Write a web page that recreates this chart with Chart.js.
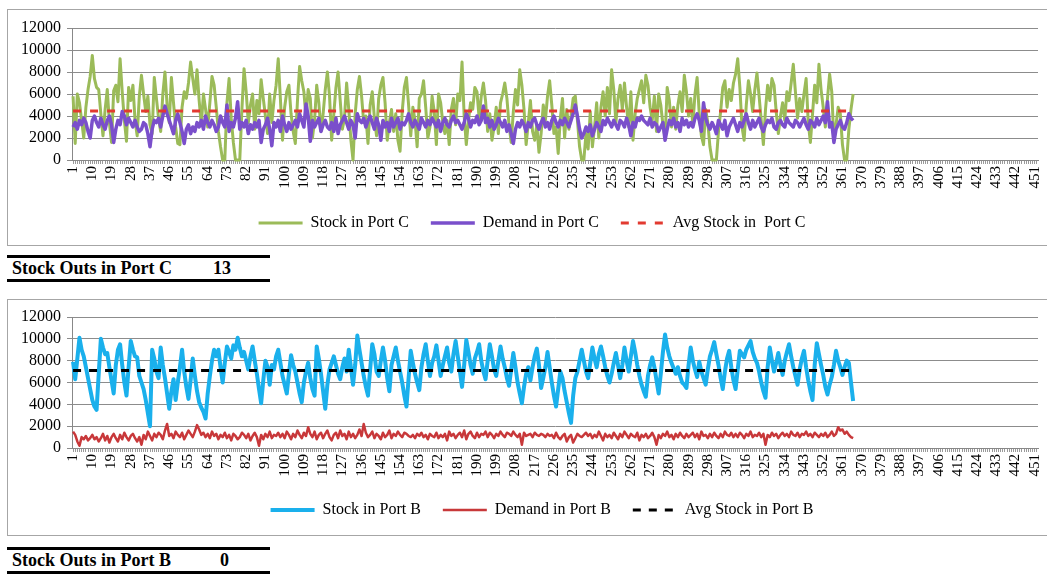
<!DOCTYPE html>
<html>
<head>
<meta charset="utf-8">
<title>Stock in Port C / Port B</title>
<script src="https://cdn.jsdelivr.net/npm/chart.js@4.4.0/dist/chart.umd.min.js"></script>
<style>
  body { margin: 0; background: #fff; overflow: hidden; width: 1047px; height: 575px; position: relative;
         font-family: "Liberation Serif", "Times New Roman", serif; }
  .panel { position: absolute; left: 7px; width: 1068px; height: 235px; border: 1px solid #a6a6a6; }
  #panelC { top: 9px; }
  #panelB { top: 299px; }
  .panel canvas { display: block; }
  .outs { position: absolute; left: 7px; width: 263px; height: 21px; border-top: 3px solid #000; border-bottom: 3px solid #000;
          font-weight: bold; font-size: 18px; line-height: 21px; color: #000; }
  .outs span { position: absolute; top: 0; }
  #outsC { top: 255px; }
  #outsB { top: 547px; }
</style>
</head>
<body>
<div class="panel" id="panelC"><canvas id="chartC" width="1068" height="235"></canvas></div>
<div class="outs" id="outsC"><span style="left:5px">Stock Outs in Port C</span><span id="valC" style="left:206px"></span></div>
<div class="panel" id="panelB"><canvas id="chartB" width="1068" height="235"></canvas></div>
<div class="outs" id="outsB"><span style="left:5px">Stock Outs in Port B</span><span id="valB" style="left:213px"></span></div>

<script>
// day numbers on the category axis
const days = [];
for (let d = 1; d <= 452; d++) days.push(String(d));

// Port C
const stockC = [
  5800, 1500, 6000, 5200, 3600, 2000, 4800, 6400, 7600, 9500,
  7400, 6600, 6400, 4200, 2200, 4600, 6400, 3400, 1600, 6300,
  6800, 5300, 9200, 6200, 3600, 1700, 6600, 5400, 6800, 3600,
  2200, 5800, 7700, 6000, 4400, 5800, 3200, 2400, 7500, 5600,
  3800, 2600, 6000, 8000, 5000, 3400, 7500, 5200, 3000, 1500,
  1400, 4800, 6200, 5600, 7000, 8900, 7400, 6000, 8200, 5400,
  3200, 6000, 4600, 3000, 5200, 7600, 6800, 4800, 2600, 1200,
  0, 0, 5200, 7400, 3800, 1600, 0, 0, 0, 4600,
  8300, 6200, 3400, 5000, 6000, 2800, 5400, 4200, 7300, 5600,
  4000, 2400, 6000, 3400, 5400, 6800, 9200, 5600, 1800, 4800,
  6200, 6800, 4200, 2600, 1500, 5400, 8500, 7200, 6200, 3800,
  6400, 5600, 2000, 3600, 6800, 5200, 2600, 4200, 6400, 8000,
  5800, 1800, 4200, 6600, 8000, 5400, 2800, 3800, 7000, 4600,
  1800, 0, 4200, 6400, 7600, 5800, 3400, 4000, 1500, 5000,
  6200, 3800, 2200, 5600, 6800, 7500, 5200, 1800, 3400, 4600,
  2600, 4200, 1800, 800, 4400, 6600, 7500, 5000, 2200, 4800,
  3600, 1200, 5600, 6000, 7200, 4800, 2000, 3000, 5800, 4400,
  1400, 6000, 5200, 3400, 2400, 3600, 1400, 4600, 5600, 3200,
  6000, 5400, 8900, 4000, 1400, 3600, 5200, 4600, 6600, 6200,
  3800, 5800, 7000, 5400, 2600, 4200, 1800, 3000, 4800, 2400,
  5200, 6000, 7000, 5600, 3200, 1600, 4400, 6400, 5000, 8200,
  6800, 4600, 1400, 3400, 5400, 2600, 1800, 3200, 700, 2400,
  5000, 3600, 5800, 7200, 5000, 2400, 3000, 600, 3800, 5600,
  2000, 4600, 2800, 4000, 5600, 5800, 3600, 1200, 0, 0,
  2400, 1000, 4400, 1200, 3000, 5200, 2000, 4800, 6200, 4000,
  6600, 4200, 8200, 6400, 3400, 5600, 6800, 4600, 7000, 4800,
  3000, 6200, 1800, 4200, 5600, 6400, 7200, 5200, 7700, 6800,
  4800, 3600, 5800, 2600, 6000, 5000, 3200, 2000, 6600, 5400,
  3000, 4800, 2800, 5000, 6200, 4400, 7700, 6200, 4000, 5600,
  3200, 6000, 7500, 4200, 2200, 1400, 4600, 3400, 1200, 0,
  0, 0, 2600, 4400, 6600, 7200, 4800, 6400, 5400, 7000,
  7800, 9200, 6600, 3000, 1800, 5000, 7200, 6000, 4400, 6400,
  7900, 5800, 3600, 1400, 4600, 6800, 5400, 7400, 6800, 4400,
  2400, 4000, 5200, 3600, 6200, 5400, 7000, 8700, 6200, 3800,
  5600, 4400, 6000, 7400, 3400, 1600, 4200, 6800, 5200, 8700,
  6400, 4800, 3000, 5600, 7800, 6200, 1800, 3200, 4800, 4200,
  1400, 0, 0, 2800, 4600, 6000
];
const demandC = [
  3000, 3400, 2800, 3600, 3200, 3800, 3400, 2600, 2000, 3600,
  4000, 3400, 3000, 3800, 3200, 2800, 3600, 4000, 3200, 1600,
  2800, 3600, 3200, 4400, 4000, 3200, 3800, 3400, 3000, 3600,
  3000, 2600, 2800, 3400, 3200, 2400, 1200, 2800, 3600, 3400,
  3800, 3000, 4000, 4900, 4200, 3600, 3000, 2400, 3600, 4200,
  3400, 2600, 1500, 2800, 3200, 2400, 3000, 2600, 3400, 3000,
  3600, 2800, 4000, 3400, 3000, 3600, 3200, 2600, 3000, 4000,
  3400, 3000, 5000, 2600, 3400, 3000, 3800, 5300, 2800, 3400,
  3000, 3600, 2400, 3200, 2800, 3400, 3000, 3600, 1600, 2800,
  3200, 3800, 2800, 1300, 3400, 3000, 3600, 2600, 4000, 3200,
  2600, 3400, 2800, 3200, 3600, 3000, 4200, 3600, 3000, 5100,
  4000, 1700, 3600, 3000, 3400, 3800, 2600, 3200, 3600, 3000,
  2800, 3400, 2600, 3800, 2400, 3200, 3600, 4000, 3400, 2800,
  3600, 3200, 2000, 4200, 3600, 3400, 3800, 3000, 3600, 4000,
  3400, 2800, 3800, 3200, 1800, 3600, 3000, 3400, 2600, 3800,
  3000, 3400, 3800, 2800, 3400, 3200, 3600, 4200, 3400, 3000,
  3600, 3200, 2800, 3800, 3400, 3000, 3600, 3200, 3800, 3400,
  3000, 3600, 2600, 3400, 3800, 3200, 3000, 3600, 4000, 3400,
  3600, 3200, 2800, 3400, 4200, 3800, 3000, 3600, 3400, 4000,
  3200, 3600, 4900, 3400, 3800, 3000, 3600, 2800, 3200, 3800,
  3400, 3000, 3600, 2600, 3200, 2400, 1500, 2800, 3400, 3000,
  3600, 3200, 2600, 3400, 3000, 3600, 3800, 3200, 2800, 3400,
  3800, 3000, 3400, 2800, 3600, 4000, 3400, 3000, 3600, 3200,
  3800, 3400, 3000, 3600, 4200, 5000, 4000, 2800, 2000, 2400,
  3000, 2600, 3200, 2200, 2800, 3400, 3000, 2600, 3600, 3200,
  3800, 3400, 3000, 3600, 3200, 2800, 3600, 3400, 3000, 3800,
  3200, 2200, 3400, 3000, 3800, 3600, 4000, 3600, 3400, 3200,
  3800, 3000, 3400, 3200, 2600, 3000, 3400, 1800, 2800, 3600,
  3200, 3800, 3000, 3400, 2600, 3800, 3200, 3600, 3000, 3400,
  3000, 3800, 4200, 3600, 2600, 5200, 3800, 3200, 2800, 3400,
  3000, 2400, 3600, 3200, 2800, 3600, 2200, 3000, 3400, 3800,
  3200, 2600, 3400, 3000, 3600, 4200, 3400, 2800, 3600, 3000,
  3400, 3800, 3000, 2600, 3200, 3600, 3400, 3800, 3000, 2800,
  3400, 3600, 3200, 3000, 3800, 3400, 3200, 3000, 3600, 3400,
  3000, 3400, 3800, 3200, 2800, 3600, 3400, 3000, 3800, 3200,
  3600, 4000, 3400, 5300, 3000, 3400, 1600, 2800, 3200, 3600,
  3000, 2800, 3400, 4200, 3800, 3600
];
const avgStockC = 4450;
const stockOutsC = 13;

// Port B
const stockB = [
  7900, 6300, 8200, 10100, 9000, 8400, 7400, 6400, 5400, 4400,
  3800, 3500, 6800, 10000, 9200, 8600, 8700, 7400, 6200, 5000,
  7600, 9000, 9500, 7600, 6000, 4800, 7400, 9800, 9000, 8400,
  8300, 6600, 6000, 5400, 4400, 3200, 2000, 9000, 8200, 7000,
  6400, 9200, 7600, 6400, 5000, 3600, 5200, 6300, 4400, 6000,
  7400, 9000, 7000, 5600, 4500, 6200, 8200, 6600, 5200, 4200,
  3700, 3300, 2700, 5000, 6600, 8000, 9000, 8400, 9000, 7400,
  6000, 7800, 9300, 8800, 8200, 9400, 9000, 10100, 9200, 8400,
  8800, 8000, 7200, 8400, 9300, 8000, 6800, 5400, 4100, 6200,
  8000, 7400, 5800, 7600, 7200, 8400, 9000, 7800, 6600, 5800,
  5000, 6800, 8500, 7600, 7000, 6000, 5000, 4200, 6000, 7000,
  7800, 6400, 5400, 4800, 9300, 8200, 6800, 5200, 3600, 5800,
  7200, 7800, 8400, 7600, 6800, 6300, 7400, 8200, 7000, 9000,
  7400, 5800, 7600, 10300, 9000, 7800, 6600, 5600, 4800, 7200,
  9500, 8600, 7000, 6600, 8000, 9200, 8000, 6400, 5200, 7600,
  8400, 9200, 8000, 7000, 6000, 4800, 3800, 6400, 8900, 7800,
  6800, 6000, 5300, 7400, 8600, 9500, 8000, 6600, 7800, 8400,
  9400, 8000, 6600, 7600, 8400, 9200, 7800, 7000, 8600, 9800,
  8400, 7000, 5600, 7600, 9900, 8800, 7600, 6800, 8200, 8800,
  9500, 8000, 7000, 6300, 8000, 9500, 8400, 7200, 6600, 8000,
  9300, 8200, 7400, 6400, 5700, 7200, 8700, 7400, 6000, 5000,
  4100, 5600, 6800, 7400, 6200, 7400, 8400, 9100, 7600, 5500,
  6400, 7400, 8800, 7400, 6000, 4800, 3800, 5400, 7000, 6400,
  5200, 4200, 3200, 2300, 4800, 6400, 7000, 8000, 9000, 8000,
  7000, 6400, 7800, 9200, 8200, 7400, 8600, 9300, 8400, 7400,
  6600, 6000, 6800, 7800, 8700, 7600, 6400, 7600, 9200, 8000,
  7000, 8400, 9800, 8800, 7600, 6600, 5800, 5200, 4700, 6600,
  7600, 8300, 7400, 6200, 5000, 6800, 8800, 10400, 9200, 8400,
  7800, 7300, 6800, 7400, 6600, 6000, 5800, 5500, 7600, 9200,
  8000, 7200, 6500, 7900, 7000, 6400, 5800, 7200, 8400, 9000,
  9700, 8600, 7600, 6400, 5400, 7000, 8200, 8900, 7400, 6200,
  5400, 7200, 8900, 8600, 8300, 9000, 9400, 9800, 8800, 8200,
  7800, 7000, 6000, 5200, 4600, 7400, 9200, 8000, 7000, 7800,
  8700, 7600, 6700, 8000, 8800, 9500, 8400, 7400, 6600, 5800,
  7200, 8200, 8900, 7400, 6200, 5200, 4400, 7600, 9600, 8600,
  7600, 6700, 5600, 4900, 5800, 6500, 7600, 8900, 8000, 7400,
  6700, 7400, 8000, 7800, 6000, 4300
];
const demandB = [
  1500, 1200, 600, 200, 1000, 800, 1100, 700, 900, 1200,
  800, 1000, 600, 900, 1300, 700, 1100, 500, 1000, 1300,
  900, 600, 1200, 800, 1400, 1000, 700, 1100, 1300, 900,
  600, 1000, 300, 1200, 800, 1500, 1100, 700, 1300, 1000,
  1400, 1200, 800, 1600, 2200, 1100, 1300, 900, 1500, 1200,
  1000, 1400, 800, 1200, 1600, 1300, 1000, 1500, 2100, 1700,
  1200, 1400, 1000, 1300, 900, 1500, 1100, 1300, 800, 1200,
  1000, 1400, 900, 1200, 700, 1300, 1100, 800, 1000, 1400,
  1200, 900, 1300, 700, 1100, 1400, 1000, 200, 1200, 800,
  1300, 1000, 1500, 900, 1200, 1100, 1400, 1000, 1300, 900,
  1500, 1200, 800, 1300, 1000, 1600, 1200, 900, 1400, 1100,
  1900, 1300, 1000, 1500, 800, 1200, 1400, 900, 1300, 1600,
  1000, 700, 1200, 1400, 900, 1600, 1100, 1300, 800, 1500,
  1000, 1300, 900, 1200, 1700, 1100, 2200, 1400, 1000, 1200,
  1500, 900, 1300, 1100, 800, 1400, 1000, 1200, 1600, 900,
  1300, 1100, 1500, 1200, 1000, 1400, 1300, 1100, 1000, 1200,
  900, 1300, 1100, 1400, 1000, 1200, 800, 1300, 1100, 1000,
  1400, 900, 1200, 1000, 1300, 700, 1500, 1100, 1300, 900,
  1200, 1400, 1000, 1600, 800, 1300, 1500, 1100, 900, 1400,
  1000, 1300, 1200, 1500, 1000, 1400, 1200, 900, 1300, 1100,
  1500, 1200, 1000, 1400, 1300, 1100, 1500, 1200, 1000, 1300,
  300, 1400, 1100, 1200, 1300, 1000, 1400, 1200, 1100, 1300,
  1200, 1000, 1300, 1100, 1200, 900, 1400, 1000, 800, 1100,
  1300, 600, 1000, 1200, 500, 900, 1300, 1100, 1000, 1200,
  1400, 1100, 1300, 900, 1200, 1000, 1500, 1100, 700, 1300,
  1000, 1200, 900, 1400, 1100, 800, 1300, 1000, 1500, 1200,
  900, 1300, 1100, 1000, 1400, 700, 1200, 1000, 1300, 900,
  1100, 1400, 1000, 300, 1200, 900, 1300, 1100, 1500, 1000,
  1200, 800, 1300, 1000, 1400, 1100, 900, 1300, 1000, 1200,
  1400, 1000, 1300, 800, 1500, 1100, 1200, 900, 1300, 1000,
  1400, 1100, 900, 1300, 1000, 1500, 1200, 1100, 1400, 1000,
  1300, 1000, 1400, 1200, 900, 1300, 1100, 1500, 1000, 1200,
  1100, 1400, 1000, 1300, 300, 1200, 1000, 1400, 1100, 1300,
  900, 1200, 1400, 1100, 1300, 1000, 1500, 1200, 1100, 1400,
  1000, 1300, 1200, 1500, 1100, 1300, 1000, 1400, 1200, 1000,
  1300, 1100, 1400, 1000, 1200, 1500, 1100, 1300, 1900, 1600,
  1700, 1300, 1500, 1200, 1000, 900
];
const avgStockB = 7100;
const stockOutsB = 0;

const serif = "'Liberation Serif', 'Times New Roman', serif";

document.getElementById('valC').textContent = stockOutsC;
document.getElementById('valB').textContent = stockOutsB;

function flatLine(value, n) {
  const out = [];
  for (let i = 0; i < n; i++) out.push(value);
  return out;
}

// legend items take the dash of their dataset (pointStyle legends drop it)
function legendLabels(chart) {
  const items = Chart.defaults.plugins.legend.labels.generateLabels(chart);
  items.forEach(item => {
    const ds = chart.data.datasets[item.datasetIndex];
    item.lineDash = ds.borderDash || [];
    item.lineWidth = ds.borderWidth;
  });
  return items;
}

function drawPanel(canvasId, series, box) {
  const ctx = document.getElementById(canvasId).getContext('2d');
  return new Chart(ctx, {
    type: 'line',
    data: {
      labels: days,
      datasets: [
        { label: series.stockLabel, data: series.stock, borderColor: series.stockColor, borderWidth: series.stockWidth,
          borderJoinStyle: 'round', order: 2, clip: 4 },
        { label: series.demandLabel, data: series.demand, borderColor: series.demandColor, borderWidth: series.demandWidth,
          borderJoinStyle: 'round', order: 1, clip: 4 },
        { label: series.avgLabel, data: flatLine(series.avg, series.stock.length), borderColor: series.avgColor,
          borderWidth: 3, borderDash: series.avgDash, order: 0, clip: 4 }
      ]
    },
    options: {
      responsive: false,
      animation: false,
      layout: { padding: { left: 0, right: 38, top: box.padTop, bottom: box.padBottom } },
      elements: { point: { radius: 0 }, line: { tension: 0 } },
      plugins: {
        legend: {
          position: 'bottom',
          labels: {
            usePointStyle: true,
            pointStyle: 'line',
            pointStyleWidth: 44,
            padding: 22,
            color: '#000',
            font: { family: serif, size: 16 },
            generateLabels: legendLabels,
            sort: (a, b) => a.datasetIndex - b.datasetIndex
          }
        },
        tooltip: { enabled: false }
      },
      scales: {
        x: {
          offset: true,
          grid: { drawOnChartArea: false, color: '#9a9a9a', tickLength: 4 },
          border: { color: '#888' },
          ticks: {
            autoSkip: false,
            minRotation: 90,
            maxRotation: 90,
            padding: 2,
            color: '#000',
            font: { family: serif, size: 15 },
            callback: function (value, index) {
              return index % 9 === 0 ? this.getLabelForValue(value) : '';
            }
          },
          afterFit: (scale) => { scale.height = box.xHeight; }
        },
        y: {
          min: 0,
          max: 12000,
          grid: { color: '#8c8c8c', tickLength: 5 },
          border: { color: '#888' },
          ticks: {
            autoSkip: false,
            stepSize: 2000,
            padding: 6,
            color: '#000',
            font: { family: serif, size: 16 },
            callback: (v) => String(v)
          },
          afterFit: (scale) => { scale.width = 64; }
        }
      }
    },
    plugins: [{
      id: 'legendShift',
      afterLayout: (chart) => {
        chart.legend.left += box.legendShift;
        chart.legend.right += box.legendShift;
      }
    }]
  });
}

drawPanel('chartC', {
  stock: stockC, demand: demandC, avg: avgStockC,
  stockLabel: 'Stock in Port C', demandLabel: 'Demand in Port C', avgLabel: 'Avg Stock in  Port C',
  stockColor: '#9BBB59', demandColor: '#7A4FCB', avgColor: '#E23A30', stockWidth: 3, demandWidth: 3.5,
  avgDash: [8, 9]
}, { padTop: 18, padBottom: 4, xHeight: 33, legendShift: 9 });

drawPanel('chartB', {
  stock: stockB, demand: demandB, avg: avgStockB,
  stockLabel: 'Stock in Port B', demandLabel: 'Demand in Port B', avgLabel: 'Avg Stock in Port B',
  stockColor: '#1AB0EC', demandColor: '#C8383A', avgColor: '#000000', stockWidth: 4, demandWidth: 2.5,
  avgDash: [8, 8]
}, { padTop: 17, padBottom: 7, xHeight: 32, legendShift: 19 });
</script>
</body>
</html>
